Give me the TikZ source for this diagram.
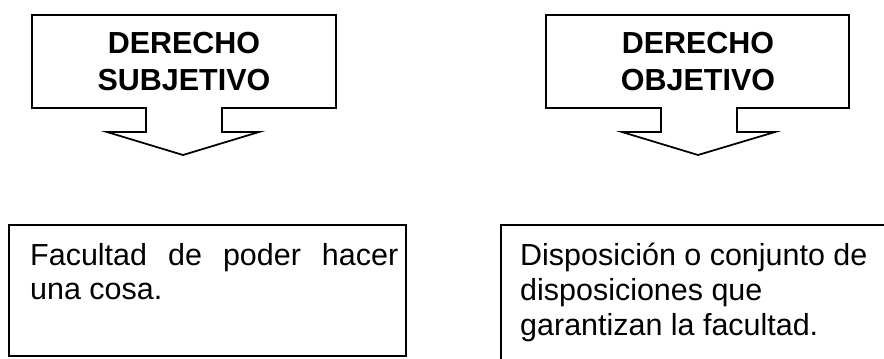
\documentclass[tikz,border=0pt]{standalone}
\usepackage{fontspec}
\setmainfont{Liberation Sans}
\usepackage{tikz}

\begin{document}
\begin{tikzpicture}[x=0.03cm, y=-0.03cm]
	\tikzstyle{edge} = [draw=black, line width=1.5pt]
	\tikzstyle{head} = [inner sep=0, align=center, font=\fontsize{26}{37\dimexpr0.85pt\relax}\selectfont\bfseries]
	\tikzstyle{body} = [inner sep=0, font=\fontsize{26}{29.75}\selectfont]
	\useasboundingbox (0,0) rectangle (884,358);
	\clip (0,0) rectangle (884,358);
	% flechas de arriba
	\draw[edge] (32,15) -- (336,15) -- (336,108) -- (222,108) -- (222,132) -- (259,132)
		-- (183,155) -- (107,132) -- (146,132) -- (146,108) -- (32,108) -- cycle;
	\draw[edge] (546,15) -- (849,15) -- (849,108) -- (737,108) -- (737,132) -- (775,132)
		-- (698,155) -- (622,132) -- (661,132) -- (661,108) -- (546,108) -- cycle;
		\node[head] (sub) at (184,90) [anchor=base] {DERECHO\\SUBJETIVO};
		\node[head] (obj) at (698,90) [anchor=base] {DERECHO\\OBJETIVO};
	% cuadros de abajo
	\draw[edge] (9,225) rectangle (406,356);
	\draw[edge] (501,225) rectangle (900,380);
		\node[body, text width=368*0.03cm, align=justify] (fac) at (30,265) [anchor=base west]
			{Facultad de poder hacer una cosa.};
		\node[body, align=left] (dis) at (520,335) [anchor=base west]
			{Disposición o conjunto de\\disposiciones que\\garantizan la facultad.};
	\end{tikzpicture}
\end{document}
